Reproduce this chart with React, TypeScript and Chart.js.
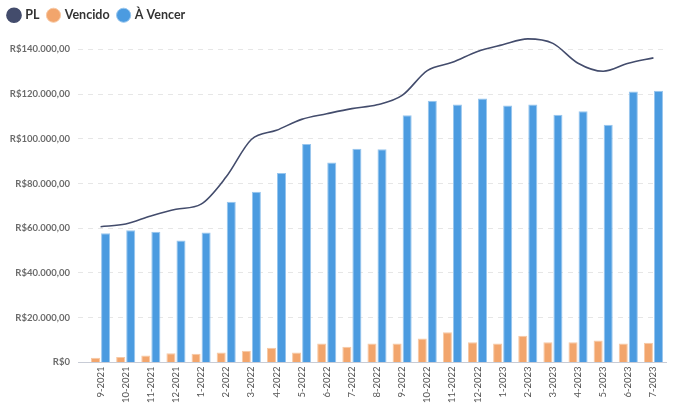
import React, { useEffect, useRef } from "react";
import { Chart, registerables } from "chart.js";

Chart.register(...registerables);

const categories = [
  "9-2021", "10-2021", "11-2021", "12-2021", "1-2022", "2-2022", "3-2022", "4-2022",
  "5-2022", "6-2022", "7-2022", "8-2022", "9-2022", "10-2022", "11-2022", "12-2022",
  "1-2023", "2-2023", "3-2023", "4-2023", "5-2023", "6-2023", "7-2023",
];

const plValues = [
  60700, 61900, 65500, 68500, 70800, 83000, 99700, 103800, 108700, 111200, 113500, 115200,
  119400, 130500, 134200, 139100, 142100, 144700, 142700, 133800, 130200, 133800, 136200,
];

const vencidoValues = [
  2100, 2400, 3100, 4150, 3860, 4450, 5200, 6530, 4450, 8460, 6980, 8460,
  8460, 10700, 13500, 9050, 8460, 11900, 9050, 9050, 9800, 8460, 8770,
];

const aVencerValues = [
  57800, 59100, 58400, 54500, 58100, 71900, 76300, 84700, 97700, 89400, 95600, 95300,
  110500, 117000, 115400, 118000, 114900, 115400, 110800, 112300, 106300, 121200, 121500,
];

const yTickValues = [0, 20000, 40000, 60000, 80000, 100000, 120000, 140000];
const yMax = 148000;

const fmt = (v: number) =>
  v === 0
    ? "R$0"
    : "R$" +
      v.toLocaleString("pt-BR", { minimumFractionDigits: 2, maximumFractionDigits: 2 });

export default function App() {
  const ref = useRef<HTMLCanvasElement | null>(null);

  useEffect(() => {
    if (!ref.current) return;
    const chart = new Chart(ref.current, {
      type: "bar",
      data: {
        labels: categories,
        datasets: [
          {
            type: "line",
            label: "PL",
            data: plValues,
            borderColor: "#434c6c",
            backgroundColor: "#434c6c",
            borderWidth: 1.6,
            pointRadius: 0,
            tension: 0.4,
            cubicInterpolationMode: "monotone",
          } as any,
          {
            label: "Vencido",
            data: vencidoValues,
            backgroundColor: "#f2a56c",
            borderColor: "#f7c9a5",
            borderWidth: 1,
          },
          {
            label: "À Vencer",
            data: aVencerValues,
            backgroundColor: "#4b9be0",
            borderColor: "#98c6ee",
            borderWidth: 1,
          },
        ],
      },
      options: {
        responsive: false,
        animation: false,
        layout: { padding: { left: 0, right: 7, top: 0, bottom: -4 } },
        plugins: {
          legend: {
            position: "top",
            align: "start",
            labels: {
              usePointStyle: true,
              pointStyle: "circle",
              boxWidth: 10,
              boxHeight: 10,
              color: "#333333",
              padding: 9,
              font: { family: "Lato", size: 12.5, weight: "bold" },
            },
          },
          tooltip: { enabled: false },
        },
        scales: {
          x: {
            grid: { display: false, drawTicks: false },
            border: { display: true, color: "#c8ccd6", width: 1 },
            ticks: {
              maxRotation: 90,
              minRotation: 90,
              color: "#555555",
              padding: 4,
              font: { family: "Lato", size: 9.5 },
            },
          },
          y: {
            min: 0,
            max: yMax,
            afterBuildTicks: (axis: any) => {
              axis.ticks = yTickValues.map((v) => ({ value: v }));
            },
            afterFit: (axis: any) => {
              axis.width = 88;
            },
            ticks: {
              color: "#6b6b6b",
              padding: 8,
              font: { family: "Lato", size: 9.5, weight: "bold" },
              callback: (v: any) => fmt(Number(v)),
            },
            grid: {
              color: (ctx: any) => (ctx.tick && ctx.tick.value === 0 ? "#c8ccd6" : "#e6e6e6"),
              tickColor: (ctx: any) => (ctx.tick && ctx.tick.value === 0 ? "#c8ccd6" : "#e6e6e6"),
              drawTicks: true,
              tickLength: 10,
              tickBorderDash: (ctx: any) => (ctx.tick && ctx.tick.value === 0 ? [] : [5, 5]),
            },
            border: { display: false, dash: [5, 5] },
          },
        },
      },
    });
    return () => chart.destroy();
  }, []);

  return (
    <div style={{ position: "fixed", left: 0, top: 0, width: 673, height: 403, background: "#fff" }}>
      <canvas ref={ref} width={673} height={403} style={{ display: "block" }} />
    </div>
  );
}
